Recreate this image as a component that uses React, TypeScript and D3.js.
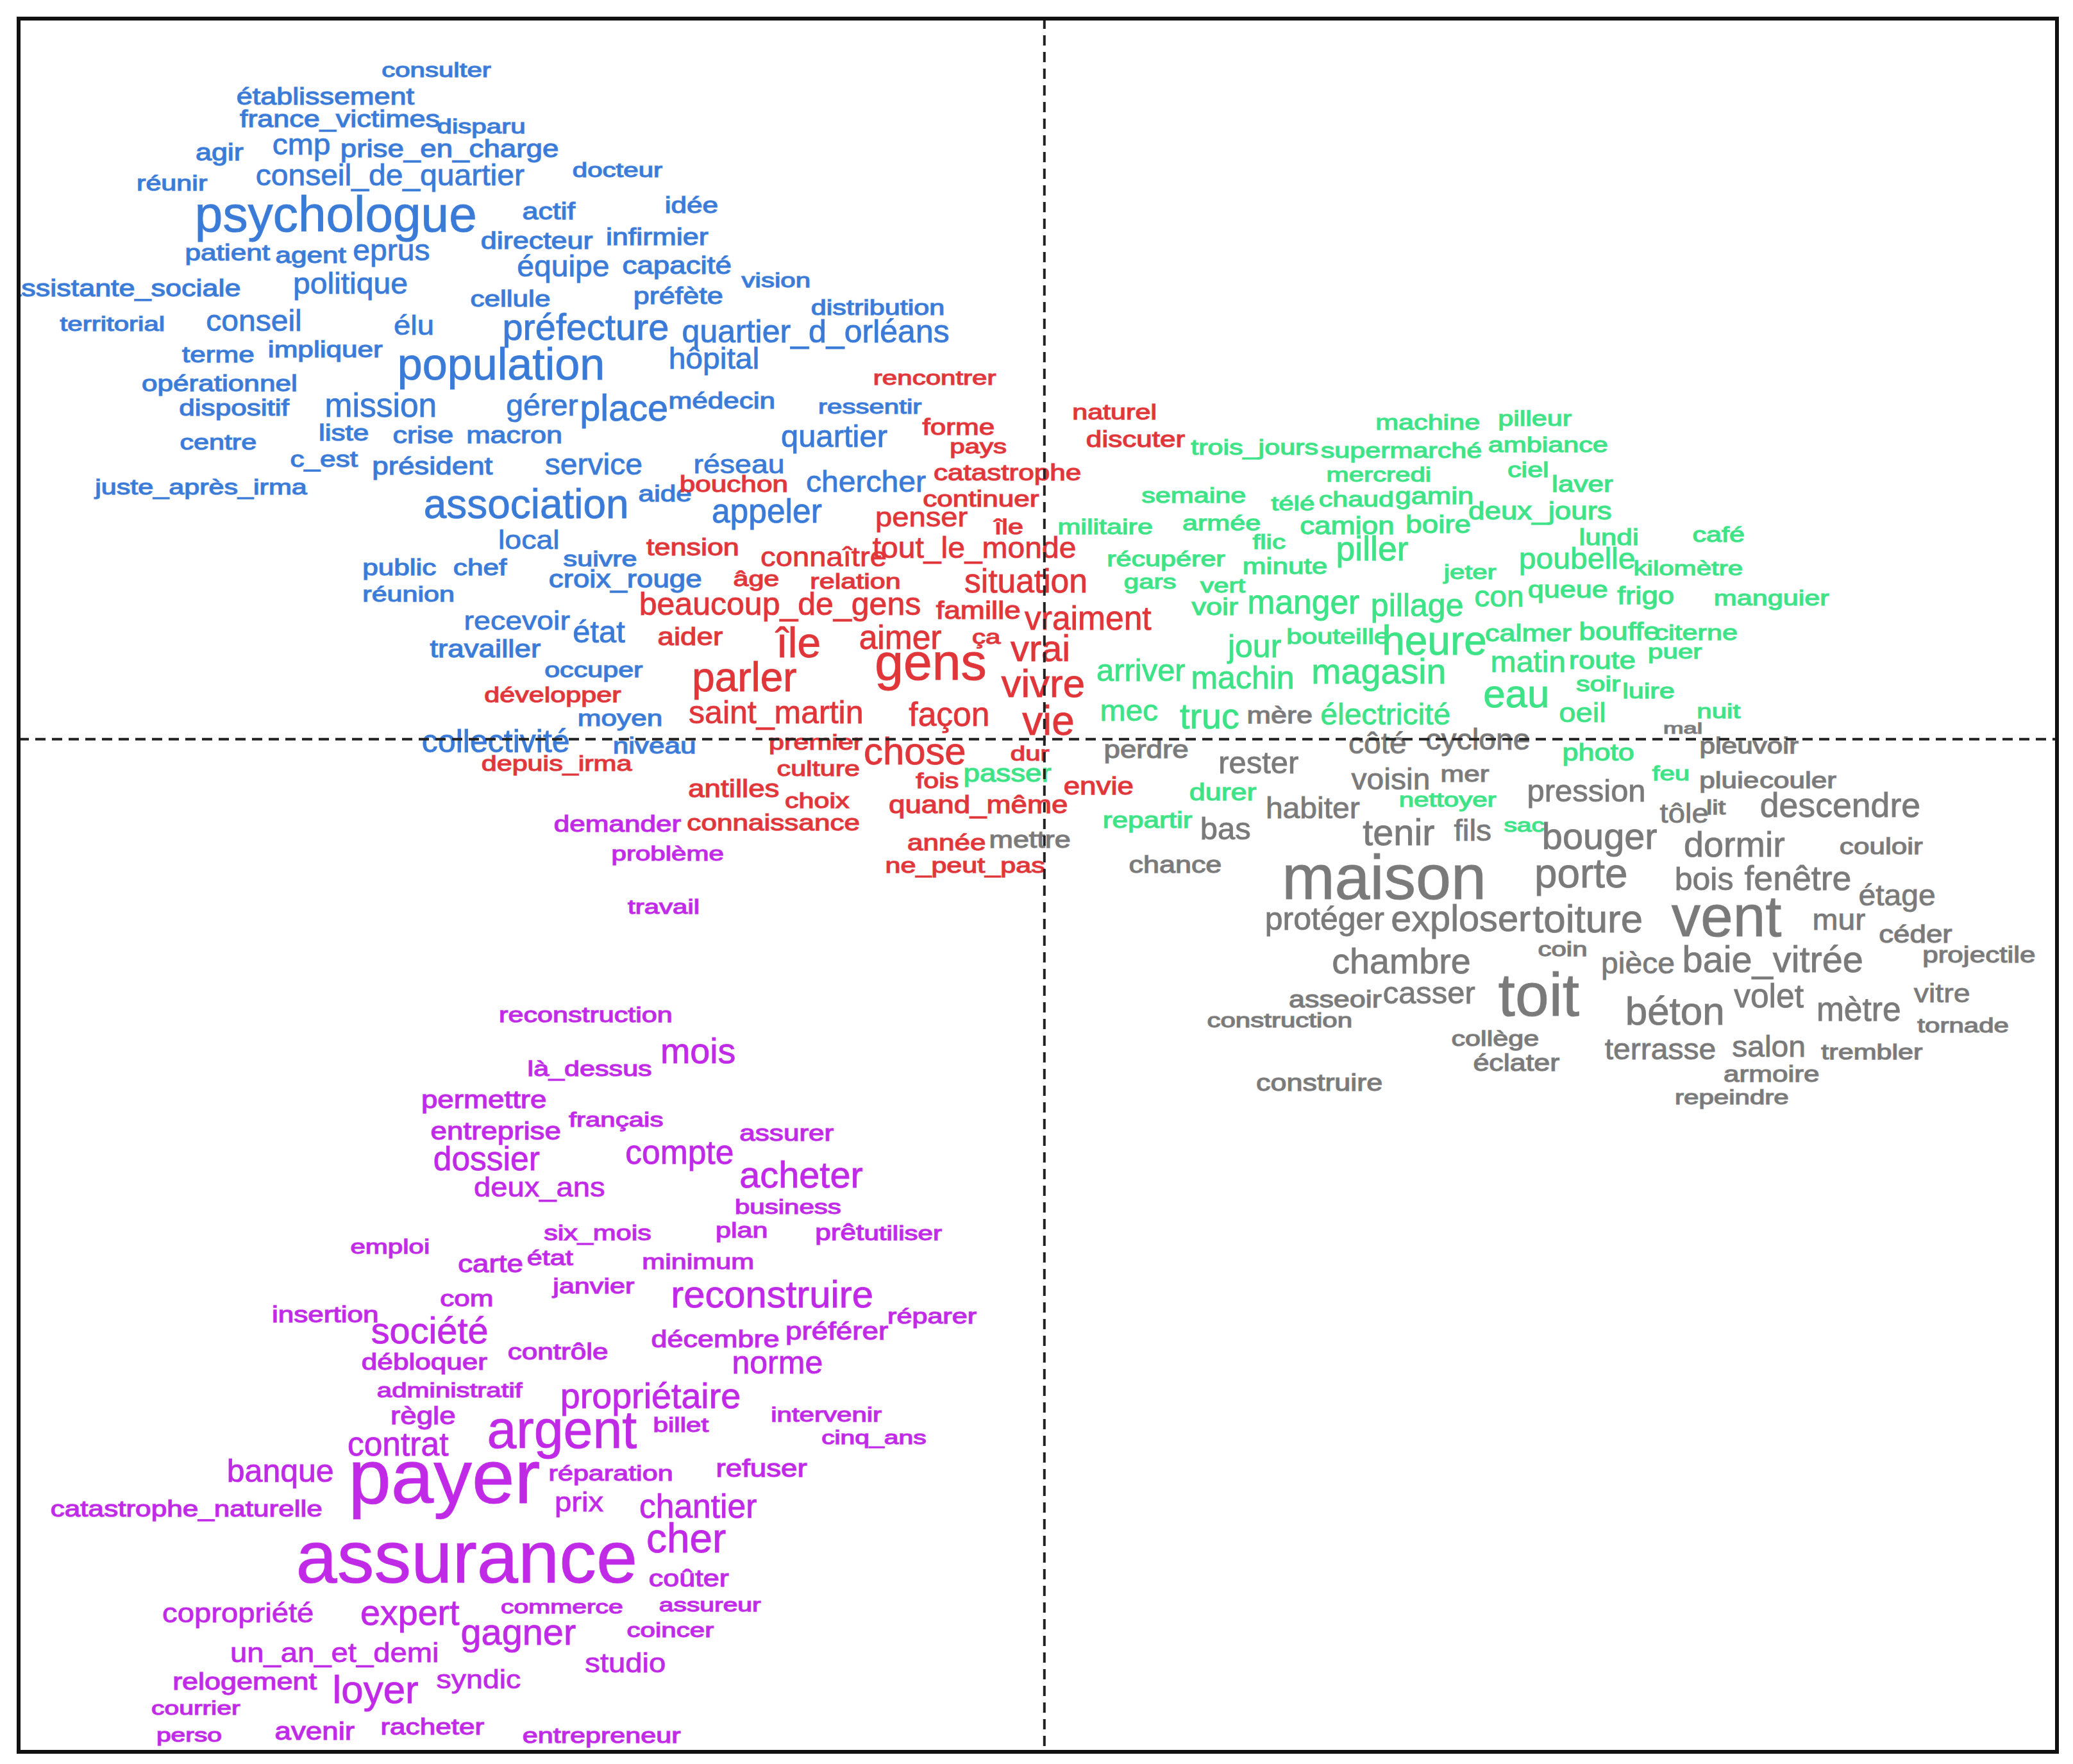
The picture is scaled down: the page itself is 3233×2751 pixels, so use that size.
import React from "react";
import * as d3 from "d3";

// [word, dim1, dim2, weight]
type W = [string, number, number, number];

const blueWords: W[] = [
  ["consulter", -460, 501, 15], ["établissement", -544, 480, 18], ["france_victimes", -533, 463, 18],
  ["disparu", -426, 458, 15], ["agir", -624, 438, 18], ["cmp", -562, 442, 22],
  ["prise_en_charge", -450, 440, 19], ["conseil_de_quartier", -495, 419, 22], ["réunir", -660, 415, 16],
  ["docteur", -323, 425, 15], ["psychologue", -536, 384, 38], ["actif", -375, 393, 18],
  ["idée", -267, 398, 17], ["directeur", -384, 371, 18], ["infirmier", -293, 374, 18],
  ["patient", -618, 362, 17], ["agent", -555, 360, 17], ["eprus", -494, 362, 22],
  ["équipe", -364, 350, 22], ["capacité", -278, 352, 19], ["vision", -203, 342, 15],
  ["assistante_sociale", -697, 335, 18], ["politique", -525, 337, 22], ["cellule", -404, 327, 17],
  ["préfète", -277, 329, 18], ["distribution", -126, 321, 16], ["territorial", -705, 309, 15],
  ["conseil", -598, 309, 22], ["élu", -477, 306, 21], ["préfecture", -347, 302, 28],
  ["quartier_d_orléans", -173, 300, 24], ["terme", -625, 285, 17], ["impliquer", -544, 289, 17],
  ["population", -411, 272, 34], ["hôpital", -250, 280, 22], ["opérationnel", -624, 263, 17],
  ["dispositif", -613, 245, 17], ["mission", -502, 244, 25], ["gérer", -380, 245, 22],
  ["place", -318, 241, 28], ["médecin", -244, 250, 17], ["ressentir", -132, 246, 15],
  ["centre", -625, 219, 16], ["liste", -530, 226, 17], ["crise", -470, 224, 18],
  ["macron", -401, 224, 18], ["quartier", -159, 221, 23], ["c_est", -545, 206, 17],
  ["président", -463, 200, 19], ["service", -341, 200, 22], ["réseau", -231, 201, 20],
  ["chercher", -135, 187, 22], ["juste_après_irma", -638, 185, 16], ["association", -392, 167, 31],
  ["aide", -287, 180, 17], ["appeler", -210, 164, 25], ["local", -390, 144, 20],
  ["suivre", -336, 131, 16], ["public", -488, 124, 17], ["chef", -427, 124, 17],
  ["croix_rouge", -317, 115, 19], ["réunion", -481, 104, 16], ["recevoir", -399, 83, 20],
  ["état", -337, 73, 23], ["travailler", -423, 62, 19], ["occuper", -341, 47, 16],
  ["moyen", -321, 10, 17], ["collectivité", -415, -10, 24], ["niveau", -295, -11, 17],
];

const redWords: W[] = [
  ["rencontrer", -83, 268, 15], ["forme", -65, 230, 17], ["pays", -50, 216, 15],
  ["catastrophe", -28, 196, 17], ["bouchon", -235, 187, 17], ["continuer", -48, 176, 17],
  ["penser", -93, 161, 21], ["île", -27, 155, 16], ["tension", -266, 139, 18],
  ["connaître", -167, 131, 21], ["tout_le_monde", -53, 137, 22], ["âge", -218, 116, 16],
  ["relation", -143, 114, 16], ["situation", -14, 111, 25], ["beaucoup_de_gens", -200, 94, 24],
  ["famille", -50, 91, 19], ["vraiment", 33, 83, 25], ["aider", -268, 71, 19],
  ["île", -186, 62, 32], ["aimer", -109, 68, 25], ["ça", -44, 72, 15],
  ["vrai", -3, 59, 28], ["gens", -86, 45, 39], ["parler", -227, 36, 31],
  ["vivre", -1, 32, 30], ["développer", -372, 28, 16], ["saint_martin", -203, 12, 24],
  ["façon", -72, 10, 25], ["vie", 3, 3, 31], ["depuis_irma", -369, -24, 16],
  ["premier", -173, -8, 16], ["chose", -98, -19, 29], ["culture", -171, -28, 16],
  ["dur", -11, -16, 15], ["fois", -81, -37, 16], ["antilles", -235, -44, 19],
  ["choix", -172, -52, 16], ["quand_même", -50, -56, 19], ["envie", 41, -42, 19],
  ["connaissance", -205, -69, 17], ["année", -74, -84, 17], ["ne_peut_pas", -60, -101, 16],
  ["naturel", 53, 242, 16], ["discuter", 69, 221, 17],
];

const greenWords: W[] = [
  ["passer", -28, -32, 19], ["machine", 290, 234, 16], ["pilleur", 371, 237, 16],
  ["trois_jours", 159, 215, 16], ["supermarché", 270, 213, 16], ["ambiance", 381, 217, 16],
  ["mercredi", 253, 195, 15], ["ciel", 366, 198, 16], ["laver", 407, 187, 17],
  ["semaine", 113, 179, 16], ["télé", 188, 173, 15], ["chaud", 236, 176, 16],
  ["gamin", 295, 178, 18], ["deux_jours", 375, 166, 19], ["militaire", 46, 155, 16],
  ["armée", 134, 158, 16], ["camion", 229, 155, 19], ["boire", 298, 156, 19],
  ["flic", 170, 144, 15], ["piller", 248, 135, 26], ["lundi", 427, 147, 17],
  ["café", 510, 149, 16], ["récupérer", 92, 131, 16], ["minute", 182, 125, 17],
  ["jeter", 322, 121, 15], ["poubelle", 403, 129, 22], ["kilomètre", 487, 124, 15],
  ["gars", 80, 114, 15], ["vert", 135, 111, 15], ["voir", 129, 94, 18],
  ["manger", 196, 95, 25], ["pillage", 282, 93, 24], ["con", 344, 100, 22],
  ["queue", 396, 107, 18], ["frigo", 455, 102, 19], ["manguier", 550, 101, 16],
  ["jour", 159, 62, 24], ["bouteille", 222, 72, 16], ["heure", 295, 64, 31],
  ["calmer", 366, 74, 18], ["bouffe", 435, 75, 19], ["citerne", 493, 75, 16],
  ["arriver", 73, 44, 23], ["machin", 150, 38, 24], ["magasin", 253, 42, 27],
  ["matin", 366, 51, 22], ["route", 422, 53, 19], ["puer", 477, 61, 15],
  ["soir", 419, 36, 16], ["luire", 457, 31, 16], ["eau", 357, 24, 30],
  ["oeil", 407, 13, 21], ["nuit", 510, 16, 15], ["mec", 64, 14, 22],
  ["truc", 125, 8, 27], ["électricité", 258, 11, 22], ["photo", 419, -16, 18],
  ["feu", 474, -31, 15], ["durer", 135, -46, 18], ["nettoyer", 305, -51, 15],
  ["repartir", 78, -67, 17], ["sac", 363, -70, 14],
];

const grayWords: W[] = [
  ["mère", 178, 12, 18], ["perdre", 77, -14, 19], ["rester", 162, -26, 23],
  ["côté", 252, -11, 22], ["cyclone", 328, -8, 22], ["mal", 483, 4, 12],
  ["pleuvoir", 533, -11, 17], ["voisin", 262, -38, 22], ["mer", 318, -32, 17],
  ["pression", 410, -47, 23], ["pluie", 518, -37, 17], ["couler", 570, -37, 17],
  ["habiter", 203, -60, 22], ["tôle", 484, -63, 21], ["lit", 508, -57, 15],
  ["descendre", 602, -59, 26], ["bas", 137, -76, 23], ["tenir", 268, -80, 28],
  ["fils", 324, -77, 22], ["bouger", 420, -83, 28], ["dormir", 522, -89, 27],
  ["couloir", 633, -87, 17], ["chance", 99, -101, 18], ["maison", 257, -121, 48],
  ["porte", 406, -112, 31], ["bois", 499, -114, 24], ["fenêtre", 570, -114, 26],
  ["étage", 645, -126, 22], ["protéger", 212, -144, 24], ["exploser", 315, -145, 28],
  ["toiture", 411, -146, 30], ["vent", 516, -149, 44], ["mur", 601, -144, 22],
  ["céder", 659, -154, 19], ["projectile", 707, -169, 17], ["chambre", 270, -177, 27],
  ["coin", 392, -164, 15], ["pièce", 449, -177, 22], ["baie_vitrée", 551, -176, 28],
  ["vitre", 679, -199, 20], ["asseoir", 220, -203, 18], ["casser", 291, -200, 23],
  ["toit", 374, -209, 46], ["béton", 477, -216, 30], ["volet", 548, -203, 25],
  ["mètre", 616, -213, 25], ["construction", 178, -218, 15], ["tornade", 695, -222, 15],
  ["collège", 341, -232, 16], ["éclater", 357, -251, 18], ["terrasse", 466, -242, 22],
  ["salon", 548, -240, 22], ["trembler", 626, -242, 16], ["armoire", 550, -259, 17],
  ["repeindre", 520, -276, 15], ["construire", 208, -266, 18], ["mettre", -11, -82, 18],
];

const purpleWords: W[] = [
  ["demander", -323, -70, 17], ["problème", -285, -92, 15], ["travail", -288, -132, 15],
  ["reconstruction", -347, -214, 16], ["mois", -262, -245, 27], ["là_dessus", -344, -255, 16],
  ["permettre", -424, -279, 19], ["français", -324, -293, 15], ["entreprise", -415, -303, 19],
  ["assurer", -195, -304, 17], ["compte", -276, -321, 25], ["dossier", -422, -326, 25],
  ["acheter", -184, -339, 28], ["deux_ans", -382, -346, 21], ["business", -194, -359, 15],
  ["six_mois", -338, -379, 16], ["plan", -229, -377, 16], ["prêt", -155, -379, 17],
  ["utiliser", -107, -379, 15], ["emploi", -495, -389, 15], ["carte", -419, -403, 19],
  ["état", -374, -398, 16], ["minimum", -262, -401, 16], ["janvier", -341, -419, 16],
  ["reconstruire", -206, -430, 29], ["com", -437, -429, 17], ["insertion", -544, -441, 17],
  ["réparer", -85, -442, 16], ["société", -465, -457, 28], ["décembre", -249, -460, 18],
  ["préférer", -157, -454, 19], ["contrôle", -368, -469, 17], ["débloquer", -469, -477, 17],
  ["norme", -202, -480, 24], ["administratif", -450, -498, 15], ["propriétaire", -298, -506, 27],
  ["intervenir", -165, -516, 15], ["règle", -470, -518, 19], ["argent", -365, -536, 40],
  ["billet", -275, -524, 15], ["cinq_ans", -129, -533, 14], ["contrat", -489, -542, 25],
  ["banque", -578, -562, 24], ["payer", -454, -578, 58], ["réparation", -328, -561, 16],
  ["refuser", -214, -558, 19], ["prix", -352, -584, 21], ["chantier", -262, -589, 25],
  ["catastrophe_naturelle", -649, -588, 17], ["cher", -271, -615, 31], ["assurance", -437, -638, 56],
  ["coûter", -269, -641, 18], ["copropriété", -610, -668, 21], ["expert", -480, -670, 27],
  ["commerce", -365, -661, 14], ["assureur", -253, -660, 14], ["gagner", -398, -685, 28],
  ["coincer", -283, -679, 15], ["un_an_et_demi", -537, -698, 21], ["studio", -317, -706, 21],
  ["syndic", -428, -718, 20], ["relogement", -605, -719, 18], ["loyer", -506, -729, 30],
  ["courrier", -642, -738, 14], ["racheter", -463, -753, 17], ["avenir", -552, -757, 19],
  ["perso", -647, -758, 14], ["entrepreneur", -335, -759, 16],
];

const groups: { words: W[]; color: string }[] = [
  { words: blueWords, color: "#3b7bd8" },
  { words: redWords, color: "#e0363a" },
  { words: greenWords, color: "#3de386" },
  { words: grayWords, color: "#7a7a7a" },
  { words: purpleWords, color: "#c02ae6" },
];

const W_ = 3233;
const H_ = 2751;
const frame = { x0: 29, x1: 3208, y0: 29, y1: 2732 };

export default function App() {
  const x = d3.scaleLinear().domain([-776, 766]).range([frame.x0, frame.x1]);
  const y = d3.scaleLinear().domain([545, -766]).range([frame.y0, frame.y1]);
  const fs = d3.scaleLinear().domain([0, 1]).range([0, 2.062]);
  // small words are rendered wider/heavier in the reference raster
  const widen = (s: number) => (s >= 25 ? 1 : 1 + 0.36 * Math.pow((25 - s) / 10, 1.5));

  return (
    <svg
      width={W_}
      height={H_}
      style={{ position: "absolute", left: 0, top: 0, background: "#fff" }}
      fontFamily="'Liberation Sans', Arial, sans-serif"
    >
      <defs>
        <clipPath id="plotclip">
          <rect x={frame.x0} y={frame.y0} width={frame.x1 - frame.x0} height={frame.y1 - frame.y0} />
        </clipPath>
      </defs>
      <rect width={W_} height={H_} fill="#fff" />
      <g clipPath="url(#plotclip)">
        {groups.map((g, gi) =>
          g.words.map((w, i) => {
            const s = w[3];
            const sx = widen(s);
            return (
              <text
                key={gi + "-" + i}
                transform={`translate(${x(w[1])},${y(w[2])}) scale(${sx.toFixed(3)},1)`}
                textAnchor="middle"
                fontSize={fs(s)}
                fill={g.color}
                stroke={g.color}
                strokeWidth={s <= 19 ? 1.4 : 1}
                strokeOpacity={0.85}
              >
                {w[0]}
              </text>
            );
          })
        )}
        <line x1={x(0)} x2={x(0)} y1={frame.y0} y2={frame.y1} stroke="#222" strokeWidth={4} strokeDasharray="16 10" />
        <line x1={frame.x0} x2={frame.x1} y1={y(0)} y2={y(0)} stroke="#222" strokeWidth={4} strokeDasharray="16 10" />
      </g>
      <rect
        x={frame.x0}
        y={frame.y0}
        width={frame.x1 - frame.x0}
        height={frame.y1 - frame.y0}
        fill="none"
        stroke="#111"
        strokeWidth={6}
      />
    </svg>
  );
}
